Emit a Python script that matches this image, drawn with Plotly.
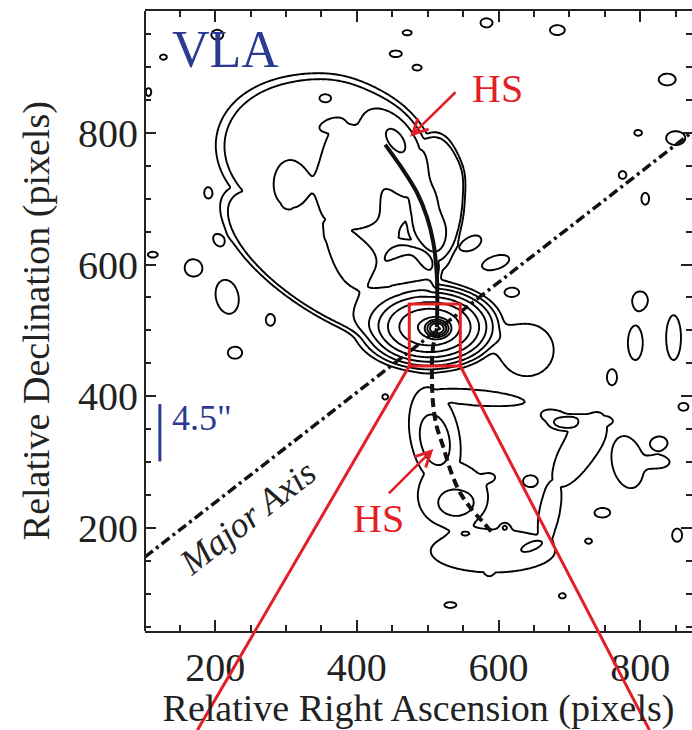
import numpy as np
import plotly.graph_objects as go

# ---------------- axes ----------------
X_RANGE = [101, 873]
Y_RANGE = [43.5, 985]
X_TICKS = [200, 400, 600, 800]
Y_TICKS = [200, 400, 600, 800]

# ---------------- emission model (data units) ----------------
# core: broad halo + compact nucleus (gaussian): cx, cy, sx, sy, amp
core_cx = [503, 513]
core_cy = [505, 503]
core_sx = [47, 10]
core_sy = [31, 8]
core_amp = [143.0, 2300.0]

# flat-topped bodies (north lobe plateau ~3, south/east plateaus ~1.5)
body_cx = [355, 345, 510, 470, 510, 535, 592, 672, 712, 718, 567, 640, 587]
body_cy = [765, 607, 705, 590, 340, 250, 165, 225, 318, 360, 398, 470, 142]
body_su = [155, 165, 42, 45, 84, 56, 102, 58, 72, 44, 79, 44, 12]
body_sv = [120, 70, 95, 45, 38, 56, 38, 17, 28, 14, 14, 46, 18]
body_ang = [-15, -38, 0, 0, -80, 0, 0, 80, 62, 5, -5, 0, 0]
body_amp = [3.0, 3.0, 3.0, 3.0, 1.5, 1.5, 1.5, 1.5, 1.5, 1.5, 1.5, 1.5, 1.5]
body_pow = [6, 6, 6, 6, 3, 3, 3, 3, 3, 3, 3, 3, 3]

# brighter structures (gaussian): cx, cy, su, sv, angle, amp
st_cx = [390, 302, 455, 470, 490, 503, 511, 510, 541, 551, 650, 355, 362, 450, 545]
st_cy = [690, 720, 790, 740, 700, 655, 610, 333, 237, 195, 174, 853, 812, 640, 735]
st_su = [150, 50, 40, 30, 30, 30, 30, 48, 31, 19, 24, 8, 12, 32, 14]
st_sv = [50, 28, 22, 30, 30, 30, 30, 26, 24, 11, 8.5, 6, 6, 30, 26]
st_ang = [95, 90, -57, 0, 0, 0, 0, -80, 0, 0, 25, 0, 20, 0, 0]
st_amp = [2.0, 1.6, 6.0, 1.5, 1.5, 1.5, 1.5, 1.0, 1.0, 1.0, 1.0, 1.6, 1.6, 1.6, 0.8]

# small isolated islands: cx, cy, half-width, half-height, angle
isl_x = [203, 127, 106, 190, 205, 112, 169, 217, 278, 228, 440, 619, 596, 563, 800, 793, 847, 760, 861,
         680, 828, 828, 588, 645, 746, 727, 852, 532, 690, 471, 583, 683, 455, 485, 838, 797, 850,
         775, 807, 782, 365, 412, 609]
isl_y = [949, 915, 862, 709, 637, 615, 595, 551, 516, 466, 399, 558, 603, 633, 546, 481, 489, 429, 384,
         368, 329, 300, 277, 271, 223, 180, 189, 83, 97, 952, 967, 956, 920, 899, 881, 800, 792,
         736, 700, 300, 645, 678, 202]
isl_w = [8.5, 5, 4, 5.5, 7, 7, 12, 16, 6.5, 10, 4, 10, 20, 14, 10.5, 10.5, 10.5, 7, 7,
         21, 10, 12.5, 6.5, 10.5, 10.5, 5, 7, 8.5, 5, 6.5, 8.5, 10.5, 8.5, 6.5, 12, 5.5, 13.5,
         5.5, 5.5, 22, 4, 4, 5]
isl_h = [7.5, 4, 6, 8.5, 10, 4.5, 13, 26, 9, 9, 4, 7, 10, 9, 13, 26, 34, 12, 6,
         11, 9, 7.5, 5, 9, 7, 4, 10, 4.5, 4, 4, 7, 7.5, 5, 4.5, 9, 4.5, 10.5,
         6, 9, 40, 4, 4, 5]
isl_ang = [0, 0, 0, 0, 30, 0, 0, 10, 0, 0, 0, 0, 20, 35, 0, 0, 0, 0, 0,
           -15, 0, 0, 0, 0, 0, 0, 0, 0, 0, 0, 0, 0, 0, 0, 0, 0, 0,
           0, 0, 10, 0, 0, 0]
ISL_AMP = 1.6

# ---------------- overlays ----------------
jet_x = [440, 465, 485, 499, 508, 513, 513]
jet_y = [782, 744, 709, 672, 633, 581, 505]
sjet_x = [513, 507, 506, 508, 513, 522, 532, 546, 563, 578, 590]
sjet_y = [503, 470, 425, 384, 353, 323, 288, 253, 227, 209, 194]
axis_x = [101, 873]
axis_y = [156, 801]
box_x = [474, 546]
box_y = [446, 540]
ray_end_x = [175, 813]
ray_end_y = [-107, -107]
bar_x = 122
bar_y = [301, 388]

RED = "#E41E26"
BLUE = "#2B3A92"
INK = "#222222"
SERIF = "Liberation Serif"

# ---------------- build field ----------------
xs = np.arange(X_RANGE[0], X_RANGE[1] + 1, 2.5)
ys = np.arange(Y_RANGE[0], Y_RANGE[1] + 1, 2.5)
X, Y = np.meshgrid(xs, ys)


def quad(cx, cy, su, sv, ang):
    t = np.radians(ang)
    dx, dy = X - cx, Y - cy
    u = dx * np.cos(t) + dy * np.sin(t)
    v = -dx * np.sin(t) + dy * np.cos(t)
    return (u / su) ** 2 + (v / sv) ** 2


F = np.zeros_like(X)
for cx, cy, sx, sy, amp in zip(core_cx, core_cy, core_sx, core_sy, core_amp):
    F = F + amp * np.exp(-quad(cx, cy, sx, sy, 0))

body = np.zeros_like(X)
for cx, cy, su, sv, a, amp, p in zip(body_cx, body_cy, body_su, body_sv, body_ang, body_amp, body_pow):
    body = np.maximum(body, amp * np.exp(-quad(cx, cy, su, sv, a) ** p))
F = F + body

for cx, cy, su, sv, a, amp in zip(st_cx, st_cy, st_su, st_sv, st_ang, st_amp):
    F = F + amp * np.exp(-quad(cx, cy, su, sv, a))

k = np.sqrt(np.log(ISL_AMP))
for cx, cy, w, h, a in zip(isl_x, isl_y, isl_w, isl_h, isl_ang):
    F = F + ISL_AMP * np.exp(-quad(cx, cy, w / k, h / k, a))

Z = np.round(np.log2(np.maximum(F, 1e-3)), 3)

fig = go.Figure()
fig.add_trace(go.Contour(
    x=xs, y=ys, z=Z,
    contours=dict(start=0, end=10, size=1, coloring="lines"),
    colorscale=[[0, "black"], [1, "black"]],
    showscale=False,
    line=dict(width=1.9, smoothing=1.0),
    hoverinfo="skip",
))

fig.add_trace(go.Scatter(x=axis_x, y=axis_y, mode="lines",
                         line=dict(color="#111111", width=3.5, dash="10px,4px,3px,4px"),
                         hoverinfo="skip"))
fig.add_trace(go.Scatter(x=sjet_x, y=sjet_y, mode="lines",
                         line=dict(color="#111111", width=4, dash="9px,5px", shape="spline"),
                         hoverinfo="skip"))
fig.add_trace(go.Scatter(x=jet_x, y=jet_y, mode="lines",
                         line=dict(color="#111111", width=4, shape="spline"),
                         hoverinfo="skip"))


def to_paper(xd, yd):
    return ((xd - X_RANGE[0]) / (X_RANGE[1] - X_RANGE[0]),
            (yd - Y_RANGE[0]) / (Y_RANGE[1] - Y_RANGE[0]))


shapes = []
shapes.append(dict(type="rect", xref="x", yref="y", x0=box_x[0], x1=box_x[1], y0=box_y[0], y1=box_y[1],
                   line=dict(color=RED, width=3)))
for bx, ex, ey in zip(box_x, ray_end_x, ray_end_y):
    p0 = to_paper(bx, box_y[0])
    p1 = to_paper(ex, ey)
    shapes.append(dict(type="line", xref="paper", yref="paper", x0=p0[0], y0=p0[1], x1=p1[0], y1=p1[1],
                       line=dict(color=RED, width=3)))
shapes.append(dict(type="line", xref="x", yref="y", x0=bar_x, x1=bar_x, y0=bar_y[0], y1=bar_y[1],
                   line=dict(color=BLUE, width=3)))
shapes.append(dict(type="line", xref="paper", yref="paper", x0=0, x1=0, y0=0, y1=1,
                   line=dict(color=INK, width=2)))

annotations = [
    dict(x=214, y=926, xref="x", yref="y", text="VLA", showarrow=False,
         font=dict(family=SERIF, size=52, color=BLUE)),
    dict(x=598, y=868, xref="x", yref="y", text="HS", showarrow=False,
         font=dict(family=SERIF, size=40, color=RED)),
    dict(x=430, y=215, xref="x", yref="y", text="HS", showarrow=False,
         font=dict(family=SERIF, size=40, color=RED)),
    dict(x=475, y=794, xref="x", yref="y", text="", showarrow=True, ax=47, ay=-46,
         arrowhead=5, arrowsize=1.2, arrowwidth=2.5, arrowcolor=RED, standoff=0),
    dict(x=508, y=320, xref="x", yref="y", text="", showarrow=True, ax=-46, ay=46,
         arrowhead=5, arrowsize=1.2, arrowwidth=2.5, arrowcolor=RED, standoff=0),
    dict(x=136, y=367, xref="x", yref="y", text='4.5"', showarrow=False, xanchor="left",
         font=dict(family=SERIF, size=36, color=BLUE)),
    dict(x=245, y=215, xref="x", yref="y", text="<i>Major Axis</i>", showarrow=False,
         textangle=-38, font=dict(family=SERIF, size=36, color=INK)),
    dict(x=-0.199, y=0.5, xref="paper", yref="paper", text="Relative Declination (pixels)",
         showarrow=False, textangle=-90, xanchor="center", yanchor="middle",
         font=dict(family=SERIF, size=38, color=INK)),
]

fig.update_layout(
    width=692, height=730,
    margin=dict(l=145, r=0, t=11, b=99),
    paper_bgcolor="white", plot_bgcolor="white",
    showlegend=False,
    shapes=shapes, annotations=annotations,
    font=dict(family=SERIF, color=INK),
)
fig.update_xaxes(range=X_RANGE, tickvals=X_TICKS, showgrid=False, zeroline=False,
                 showline=True, linecolor=INK, linewidth=2, mirror="ticks",
                 ticks="inside", ticklen=11, tickwidth=2, tickcolor=INK,
                 minor=dict(dtick=50, tick0=0, ticks="inside", ticklen=6, tickwidth=1.5, tickcolor=INK),
                 tickfont=dict(family=SERIF, size=40, color=INK),
                 title=dict(text="Relative Right Ascension (pixels)",
                            font=dict(family=SERIF, size=38, color=INK), standoff=4))
fig.update_yaxes(range=Y_RANGE, tickvals=Y_TICKS, showgrid=False, zeroline=False,
                 showline=False, mirror="ticks",
                 ticks="inside", ticklen=11, tickwidth=2, tickcolor=INK,
                 minor=dict(dtick=50, tick0=0, ticks="inside", ticklen=6, tickwidth=1.5, tickcolor=INK),
                 tickfont=dict(family=SERIF, size=40, color=INK),
                 ticklabelstandoff=6)

fig.write_html("out.html")
